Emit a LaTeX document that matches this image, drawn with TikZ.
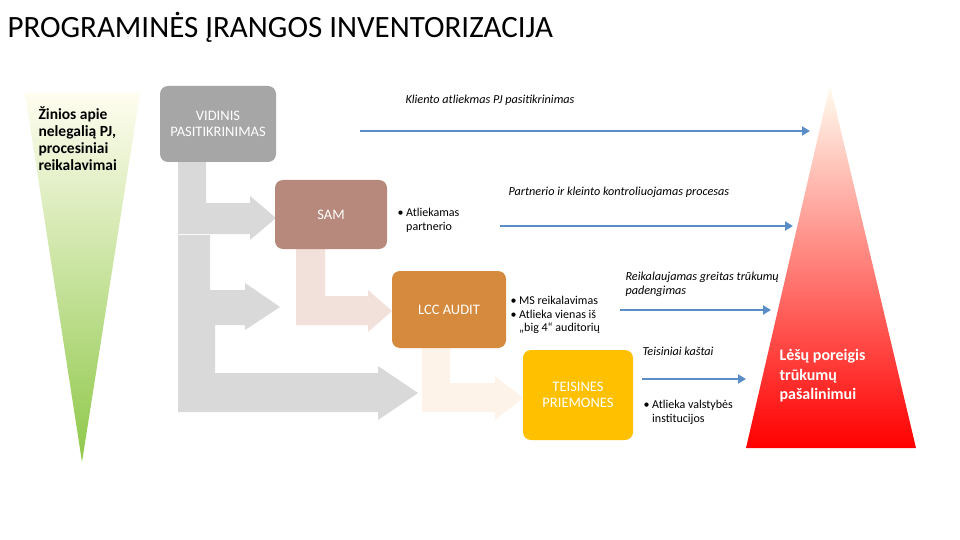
\documentclass[tikz,border=0pt]{standalone}
\usepackage{fontspec}
\setmainfont{Carlito}
\begin{document}
\begin{tikzpicture}[x=1pt,y=-1pt,
  box/.style={rounded corners=8pt,text=white,align=center,font=\fontsize{14.5}{16}\selectfont},
  lbl/.style={font=\fontsize{12.2}{14}\selectfont\itshape,align=left,anchor=west},
  bul/.style={font=\fontsize{12}{13.5}\selectfont,align=left,anchor=north west},
  blue/.style={draw=blueln,line width=2.6pt,-{Triangle[length=8pt,width=9pt]}}]
\usetikzlibrary{arrows.meta}
\definecolor{blueln}{HTML}{5A8CC6}
\definecolor{grayarr}{HTML}{D9D9D9}
\definecolor{pinkarr}{HTML}{F2E1DA}
\definecolor{peacharr}{HTML}{FDF3E8}
\definecolor{cream}{HTML}{FFFDF0}
\definecolor{ygreen}{HTML}{8FC84A}
\definecolor{lyg}{HTML}{E6EDB0}
\definecolor{lorange}{HTML}{FAD5A0}
\useasboundingbox (0,0) rectangle (960,540);
\fill[white] (0,0) rectangle (960,540);
\node[anchor=west,font=\fontsize{31}{35}\selectfont] (title) at (4,27) {PROGRAMINĖS ĮRANGOS INVENTORIZACIJA};
% triangles
\shade[top color=cream,middle color=lyg,bottom color=ygreen] (25,93) -- (140,93) -- (82,462) -- cycle;
\shade[top color=cream,middle color=lorange,bottom color=red] (830,85) -- (916,448) -- (746,448) -- cycle;
\node[anchor=north west,font=\fontsize{15.5}{17}\selectfont\bfseries,align=left] (know) at (35,103) {Žinios apie\\nelegalią PJ,\\procesiniai\\reikalavimai};
\node[anchor=north west,font=\fontsize{16}{19.5}\selectfont\bfseries,align=left,text=white] (funds) at (776,346) {Lėšų poreigis\\trūkumų\\pašalinimui};
% gray bent arrows
\fill[grayarr] (178,305) -- (178,412) -- (378,412) -- (378,420) -- (418,393) -- (378,366) -- (378,373) -- (215,373) -- (215,305) -- cycle;
\draw[white,line width=0.6pt] (178,305) -- (215,305);
\fill[grayarr] (178,234) -- (178,325) -- (245,325) -- (245,330) -- (280,307) -- (245,283) -- (245,290) -- (210,290) -- (210,234) -- cycle;
\draw[white,line width=0.6pt] (178,234) -- (210,234);
\fill[grayarr] (178,162) -- (178,234) -- (250,234) -- (250,240) -- (276,218) -- (250,196) -- (250,203) -- (206,203) -- (206,162) -- cycle;
\fill[pinkarr] (296,249) -- (296,325) -- (368,325) -- (368,332) -- (392,311) -- (368,290) -- (368,296) -- (325,296) -- (325,249) -- cycle;
\fill[peacharr] (422,348) -- (422,412) -- (495,412) -- (495,420) -- (523,398) -- (495,376) -- (495,383) -- (450,383) -- (450,348) -- cycle;
% boxes
\node[box,fill=black!35,minimum width=116pt,minimum height=76pt] (vid) at (218,124) {VIDINIS\\PASITIKRINIMAS};
\node[box,fill=brown!60!red!40!gray!80,minimum width=112pt,minimum height=69pt] (sam) at (331,214.5) {SAM};
\node[box,fill={rgb,255:red,214;green,138;blue,62},minimum width=114pt,minimum height=77pt] (lcc) at (449,309.5) {LCC AUDIT};
\node[box,fill={rgb,255:red,255;green,192;blue,0},minimum width=110pt,minimum height=90pt] (tei) at (578,395) {TEISINES\\PRIEMONES};
% blue arrows
\coordinate (a1) at (360,131); \coordinate (b1) at (810,131);
\coordinate (a2) at (500,226); \coordinate (b2) at (793,226);
\coordinate (a3) at (620,310); \coordinate (b3) at (771,310);
\coordinate (a4) at (642,379); \coordinate (b4) at (746,379);
\draw[blue] (a1) -- (b1);
\draw[blue] (a2) -- (b2);
\draw[blue] (a3) -- (b3);
\draw[blue] (a4) -- (b4);
\node[lbl] (l1) at (402,100) {Kliento atliekmas PJ pasitikrinimas};
\node[lbl] (l2) at (505,192) {Partnerio ir kleinto kontroliuojamas procesas};
\node[lbl] (l3) at (622,284) {Reikalaujamas greitas trūkumų\\padengimas};
\node[lbl] (l4) at (639,351) {Teisiniai kaštai};
\node[bul] (t1) at (394,205) {• Atliekamas\\\hphantom{• }partnerio};
\node[bul] (t2) at (507,293) {• MS reikalavimas\\• Atlieka vienas iš\\\hphantom{• }„big 4“ auditorių};
\node[bul] (t3) at (640,397) {• Atlieka valstybės\\\hphantom{• }institucijos};
\end{tikzpicture}
\end{document}
